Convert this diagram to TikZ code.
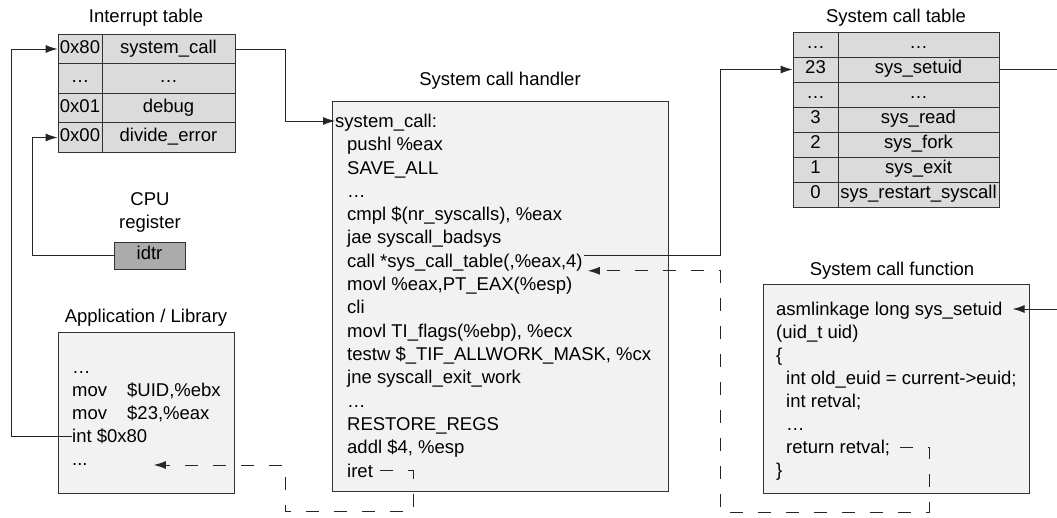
\documentclass[tikz,border=0pt]{standalone}
\usepackage{fontspec}
\setmainfont{Liberation Sans}
\usetikzlibrary{arrows.meta,positioning}

\begin{document}
\begin{tikzpicture}[x=1pt,y=-1pt,
		font=\fontsize{18.5pt}{23pt}\selectfont,
		>={Latex[length=12pt,width=8pt]},
		cell/.style={draw=black!80,fill=black!14,inner sep=0pt,line width=0.9pt,text height=13pt,text depth=4pt},
		box/.style={draw=black!80,fill=black!5,anchor=north west,inner sep=0pt,line width=0.9pt},
		ln/.style={anchor=west,inner sep=0pt,text height=13pt,text depth=0pt},
		wire/.style={draw=black!85,line width=0.9pt},
		retline/.style={dash pattern=on 13pt off 15pt}]
			\useasboundingbox (0,0) rectangle (1057,518);
			\node (t1) at (146,18) {Interrupt table};
			\node (t2) at (896,18) {System call table};
			\node (t3) at (500,81) {System call handler};
			\node (t4) at (892,271) {System call function};
			\node (t5) at (146,318) {Application / Library};
			\node[align=center] (t6) at (150,212) {CPU\\register};
			\foreach \a/\b [count=\i] in {0x80/system\_call, \dots/\dots, 0x01/debug, 0x00/divide\_error} {
				\node[cell,minimum width=44pt,minimum height=29.5pt] (ia\i) at (80,{19.5+29.5*\i}) {\a};
				\node[cell,minimum width=133pt,minimum height=29.5pt] (ib\i) at (168.5,{19.5+29.5*\i}) {\b};
			}
			\foreach \a/\b [count=\i] in {\dots/\dots, 23/sys\_setuid, \dots/\dots, 3/sys\_read, 2/sys\_fork, 1/sys\_exit, 0/sys\_restart\_syscall} {
				\node[cell,minimum width=45pt,minimum height=25pt] (sa\i) at (815.5,{19.5+25*\i}) {\a};
				\node[cell,minimum width=161pt,minimum height=25pt] (sb\i) at (918.5,{19.5+25*\i}) {\b};
			}
			\node[cell,fill=black!33,minimum width=71pt,minimum height=27pt] (idtr) at (149.5,255.5) {idtr};
			\node[box,minimum width=176pt,minimum height=161pt] (ab) at (58,332) {};
			\node[box,minimum width=336pt,minimum height=390pt] (hb) at (332,101) {};
			\node[box,minimum width=266pt,minimum height=209pt] (fb) at (763,284) {};
			\foreach \t [count=\i] in {\dots, {\makebox[55pt][l]{mov}\$UID,\%ebx}, {\makebox[55pt][l]{mov}\$23,\%eax}, int \$0x80, .{}.{}.}
				\node[ln] (a\i) at (72,{367+23.1*(\i-1)}) {\t};
			\node[ln] (h1) at (335,121) {system\_call:};
			\foreach \t [count=\i from 2] in {pushl \%eax, SAVE\_ALL, \dots, {cmpl \$(nr\_syscalls), \%eax}, jae syscall\_badsys, {call *sys\_call\_table(,\%eax,4)}, {movl \%eax,PT\_EAX(\%esp)}, cli, {movl TI\_flags(\%ebp), \%ecx}, {testw \$\_TIF\_ALLWORK\_MASK, \%cx}, jne syscall\_exit\_work, \dots, RESTORE\_REGS, {addl \$4, \%esp}, iret}
				\node[ln] (h\i) at (347,{121+23.3*(\i-1)}) {\t};
			\foreach \t [count=\i] in {{asmlinkage long sys\_setuid}, {(uid\_t uid)}, {\{}, {\hspace{10pt}int old\_euid = current->euid;}, {\hspace{10pt}int retval;}, {\hspace{10pt}\dots}, {\hspace{10pt}return retval;}, {\}}}
				\node[ln] (f\i) at (776,{309+23*(\i-1)}) {\t};
			\coordinate (rim) at (1057,0);
			\draw[wire,->] (a4.west) -| ([xshift=-46pt]ia1.west) -- (ia1.west);
			\draw[wire,->] (idtr.west) -| ([xshift=-25pt]ia4.west) -- (ia4.west);
			\draw[wire,->] (ib1.east) -| ([xshift=-50pt]h1.west) -- (h1.west);
			\draw[wire,->] ([xshift=1pt,yshift=5pt]h7.east) -| ([xshift=-72pt]sa2.west) -- (sa2.west);
			\draw[wire] (sb2.east) -- (sb2.east -| rim);
			\draw[wire,<-] ([xshift=10pt]f1.east) -- (f1.east -| rim);
			\draw[wire,retline,->] ([xshift=10pt]f7.east) -- ++(29,0) |- ++(-209,65) |- ([xshift=5pt,yshift=-10pt]h7.east);
			\draw[wire,retline,->] ([xshift=7pt]h16.east) -- ++(33,0) |- ++(-128,41) |- ([xshift=66pt,yshift=-5.6pt]a5.east);
			\end{tikzpicture}
\end{document}
